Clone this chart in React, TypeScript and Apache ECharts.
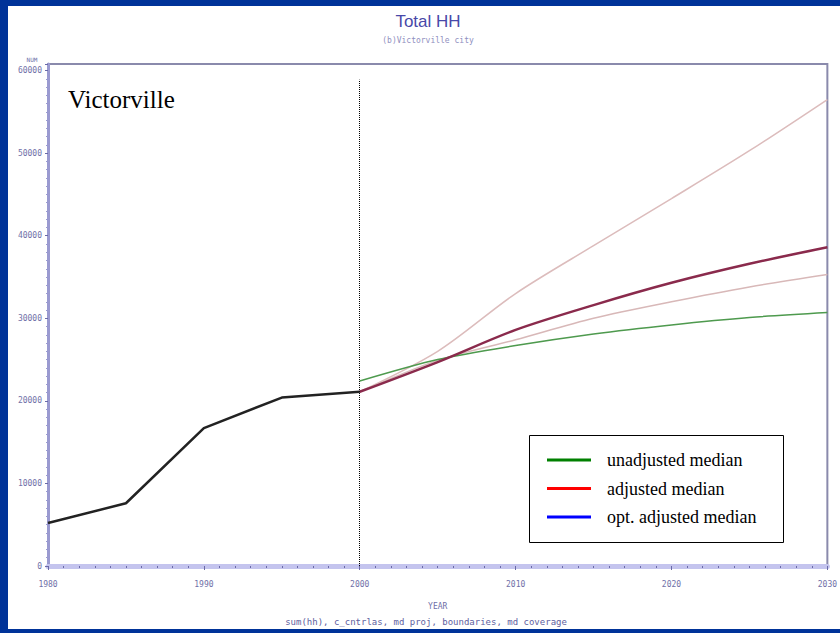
import React, { useEffect, useRef } from "react";
import * as echarts from "echarts";

const histYears = [1980, 1985, 1990, 1995, 2000];
const histValues = [5200, 7600, 16700, 20400, 21100];

const projYears = [2000, 2005, 2010, 2015, 2020, 2025, 2030];
const unadjusted = [22400, 25000, 26700, 28100, 29200, 30100, 30700];
const adjusted = [21100, 24700, 28600, 31600, 34300, 36600, 38600];
const lightUpper = [21100, 26000, 33000, 38800, 44500, 50300, 56500];
const lightLower = [21100, 24900, 27400, 30000, 32000, 33800, 35300];

const legendNames = ["unadjusted median", "adjusted median", "opt. adjusted median"];
const legendColors = ["#008000", "#ff0000", "#0000ff"];

const pair = (xs: number[], ys: number[]) => xs.map((x, i) => [x, ys[i]]);

export default function App() {
  const ref = useRef<HTMLDivElement>(null);
  useEffect(() => {
    if (!ref.current) return;
    const chart = echarts.init(ref.current, null, { renderer: "svg" });
    const mono = "DejaVu Sans Mono";
    const axisColor = "#7070a8";
    chart.setOption({
      animation: false,
      backgroundColor: "#ffffff",
      grid: {
        left: 40,
        right: 8,
        top: 58,
        bottom: 63,
        show: true,
        borderColor: "#8a8aac",
        borderWidth: 2,
      },
      xAxis: {
        type: "value",
        min: 1980,
        max: 2030,
        interval: 10,
        name: "YEAR",
        nameLocation: "middle",
        nameGap: 36,
        nameTextStyle: { fontFamily: mono, fontSize: 8, color: axisColor },
        axisLine: { show: true, lineStyle: { color: "#c4c4ee", width: 5 } },
        axisTick: { show: true, length: 4, lineStyle: { color: "#6a6aa8", width: 1 } },
        minorTick: { show: true, splitNumber: 10, length: 2, lineStyle: { color: "#6a6aa8" } },
        splitLine: { show: false },
        axisLabel: {
          fontFamily: mono,
          fontSize: 8,
          color: axisColor,
          margin: 14,
          formatter: (v: number) => String(v),
        },
      },
      yAxis: {
        type: "value",
        min: 0,
        max: 60800,
        interval: 10000,
        axisLine: { show: true, lineStyle: { color: "#9a9ad0", width: 3 } },
        axisTick: { show: true, length: 3, lineStyle: { color: "#6a6aa8" } },
        minorTick: { show: true, splitNumber: 10, length: 2, lineStyle: { color: "#9a9ad0" } },
        splitLine: { show: false },
        axisLabel: {
          fontFamily: mono,
          fontSize: 8,
          color: axisColor,
          margin: 6,
          formatter: (v: number) => (v % 10000 === 0 ? String(v) : ""),
        },
      },
      series: [
        {
          type: "line",
          data: pair(projYears, lightUpper),
          smooth: 0.3,
          symbol: "none",
          lineStyle: { color: "#dcbcbc", width: 1.5 },
        },
        {
          type: "line",
          data: pair(projYears, lightLower),
          smooth: 0.3,
          symbol: "none",
          lineStyle: { color: "#d8b8b8", width: 1.5 },
        },
        {
          type: "line",
          data: pair(projYears, unadjusted),
          smooth: 0.3,
          symbol: "none",
          lineStyle: { color: "#4e9a4e", width: 1.5 },
        },
        {
          type: "line",
          data: pair(projYears, adjusted),
          smooth: 0.3,
          symbol: "none",
          lineStyle: { color: "#8a2a4c", width: 2.5 },
        },
        {
          type: "line",
          data: pair(histYears, histValues),
          symbol: "none",
          lineStyle: { color: "#222222", width: 2.5 },
          markLine: {
            silent: true,
            symbol: "none",
            label: { show: false },
            lineStyle: { color: "#000000", type: "dotted", width: 1 },
            data: [[{ coord: [2000, 0] }, { coord: [2000, 58900] }]],
          },
        },
      ],
      graphic: [
        {
          type: "text",
          x: 420,
          y: 15,
          style: {
            text: "Total HH",
            fontFamily: "Liberation Sans Narrow, Liberation Sans",
            fontSize: 17,
            fill: "#4848a8",
            align: "center",
            verticalAlign: "middle",
          },
        },
        {
          type: "text",
          x: 420,
          y: 34,
          style: {
            text: "(b)Victorville city",
            fontFamily: mono,
            fontSize: 8,
            fill: "#9090c0",
            align: "center",
            verticalAlign: "middle",
          },
        },
        {
          type: "text",
          x: 24,
          y: 53,
          style: {
            text: "NUM",
            fontFamily: mono,
            fontSize: 6,
            fill: axisColor,
            align: "center",
            verticalAlign: "middle",
          },
        },
        {
          type: "text",
          x: 418,
          y: 616,
          style: {
            text: "sum(hh), c_cntrlas, md proj, boundaries, md coverage",
            fontFamily: mono,
            fontSize: 9,
            fill: "#6060a0",
            align: "center",
            verticalAlign: "middle",
          },
        },
        {
          type: "text",
          x: 60,
          y: 93,
          style: {
            text: "Victorville",
            fontFamily: "Liberation Serif",
            fontSize: 25,
            fill: "#000000",
            align: "left",
            verticalAlign: "middle",
          },
        },
        {
          type: "rect",
          shape: { x: 521.5, y: 429.5, width: 254, height: 107 },
          style: { fill: "#ffffff", stroke: "#000000", lineWidth: 1 },
          z: 10,
        },
        ...legendNames.flatMap((name, i) => [
          {
            type: "line",
            shape: { x1: 539, y1: 454 + i * 28.5, x2: 583, y2: 454 + i * 28.5 },
            style: { stroke: legendColors[i], lineWidth: 3 },
            z: 11,
          },
          {
            type: "text",
            x: 599,
            y: 454 + i * 28.5,
            style: {
              text: name,
              fontFamily: "Liberation Serif",
              fontSize: 18,
              fill: "#000000",
              align: "left",
              verticalAlign: "middle",
            },
            z: 11,
          },
        ]),
      ],
    });
    return () => chart.dispose();
  }, []);

  return (
    <div
      style={{
        position: "fixed",
        left: 0,
        top: 0,
        width: 840,
        height: 633,
        background: "#003399",
        overflow: "hidden",
      }}
    >
      <div
        ref={ref}
        style={{
          position: "absolute",
          left: 8,
          top: 6,
          width: 832,
          height: 623,
          background: "#ffffff",
        }}
      />
    </div>
  );
}
